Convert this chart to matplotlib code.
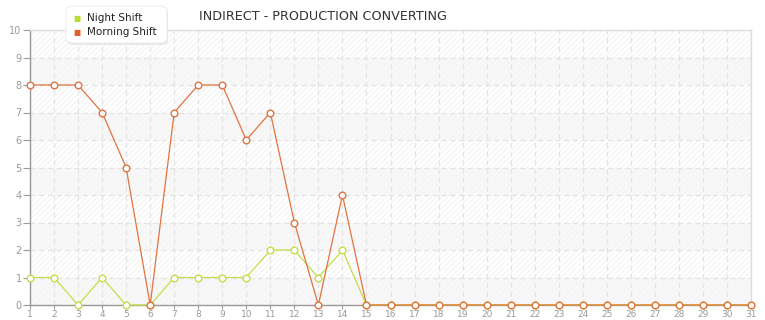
import matplotlib
matplotlib.use("Agg")
import matplotlib.pyplot as plt
from matplotlib.patches import FancyBboxPatch

days = list(range(1, 32))
night_shift = [1, 1, 0, 1, 0, 0, 1, 1, 1, 1, 2, 2, 1, 2, 0] + [0] * 16
morning_shift = [8, 8, 8, 7, 5, 0, 7, 8, 8, 6, 7, 3, 0, 4, 0] + [0] * 16
y_ticks = list(range(0, 11))
title = "INDIRECT - PRODUCTION CONVERTING"
labels = ["Night Shift", "Morning Shift"]

night_color = "#c3df45"
morning_color = "#e2733f"

plt.rcParams['hatch.linewidth'] = 0.6

fig = plt.figure(figsize=(7.65, 3.2), dpi=100)
ax = fig.add_axes([30/765, 15/320, 721/765, 275/320])
ax.set_xlim(1, 31)
ax.set_ylim(0, 10)

for i in range(10):
    if i % 2 == 1:
        ax.axhspan(i, i + 1, facecolor='white', hatch='//////', edgecolor='#f0f0f0', linewidth=0, zorder=0)
    else:
        ax.axhspan(i, i + 1, facecolor='#f8f8f8', hatch='//////', edgecolor='#f3f3f3', linewidth=0, zorder=0)

ax.set_xticks(days)
ax.set_yticks(y_ticks)
ax.grid(True, color='#e3e3e3', linestyle=(0, (4, 3)), linewidth=0.9, zorder=1)
ax.set_axisbelow(True)

ax.plot(days, night_shift, color=night_color, linewidth=0.9, marker='o', markersize=4.8,
        markerfacecolor='white', markeredgecolor=night_color, markeredgewidth=1.0, zorder=3, clip_on=False)
ax.plot(days, morning_shift, color=morning_color, linewidth=0.9, marker='o', markersize=4.8,
        markerfacecolor='white', markeredgecolor=morning_color, markeredgewidth=1.0, zorder=4, clip_on=False)

for s in ['left', 'bottom']:
    ax.spines[s].set_color('#999999')
    ax.spines[s].set_linewidth(1.0)
for s in ['top', 'right']:
    ax.spines[s].set_color('#dddddd')
    ax.spines[s].set_linewidth(1.0)

ax.tick_params(axis='x', colors='#999999', labelcolor='#999999', labelsize=6.5, length=3, width=0.8, pad=0.5)
ax.tick_params(axis='y', colors='#999999', labelcolor='#999999', labelsize=7, length=5, width=0.8, pad=1)

fig.text(323/765, 1 - 17/320, title, ha='center', va='center', fontsize=9.2, color='#333333')

# legend box
shadow = FancyBboxPatch((67/765, 1 - 45/320), 101/765, 37/320, boxstyle='round,pad=0,rounding_size=0.012',
                        transform=fig.transFigure, facecolor='#e8e8e8', edgecolor='none', zorder=9)
box = FancyBboxPatch((66/765, 1 - 43/320), 101/765, 37/320, boxstyle='round,pad=0,rounding_size=0.012',
                     transform=fig.transFigure, facecolor='white', edgecolor='#eaeaea', linewidth=0.6,
                     zorder=10)
fig.patches.append(shadow)
fig.patches.append(box)
colors = ["#b8dc30", "#e0622a"]
for k, (lab, col) in enumerate(zip(labels, colors)):
    yy = 1 - (18 + 14 * k) / 320
    fig.text(77/765, yy, "\u25a0", ha='center', va='center', fontsize=5.5, color=col, zorder=11)
    fig.text(87/765, yy, lab, ha='left', va='center', fontsize=7.5, color='#222222', zorder=11)

fig.savefig("out.png", dpi=100)
